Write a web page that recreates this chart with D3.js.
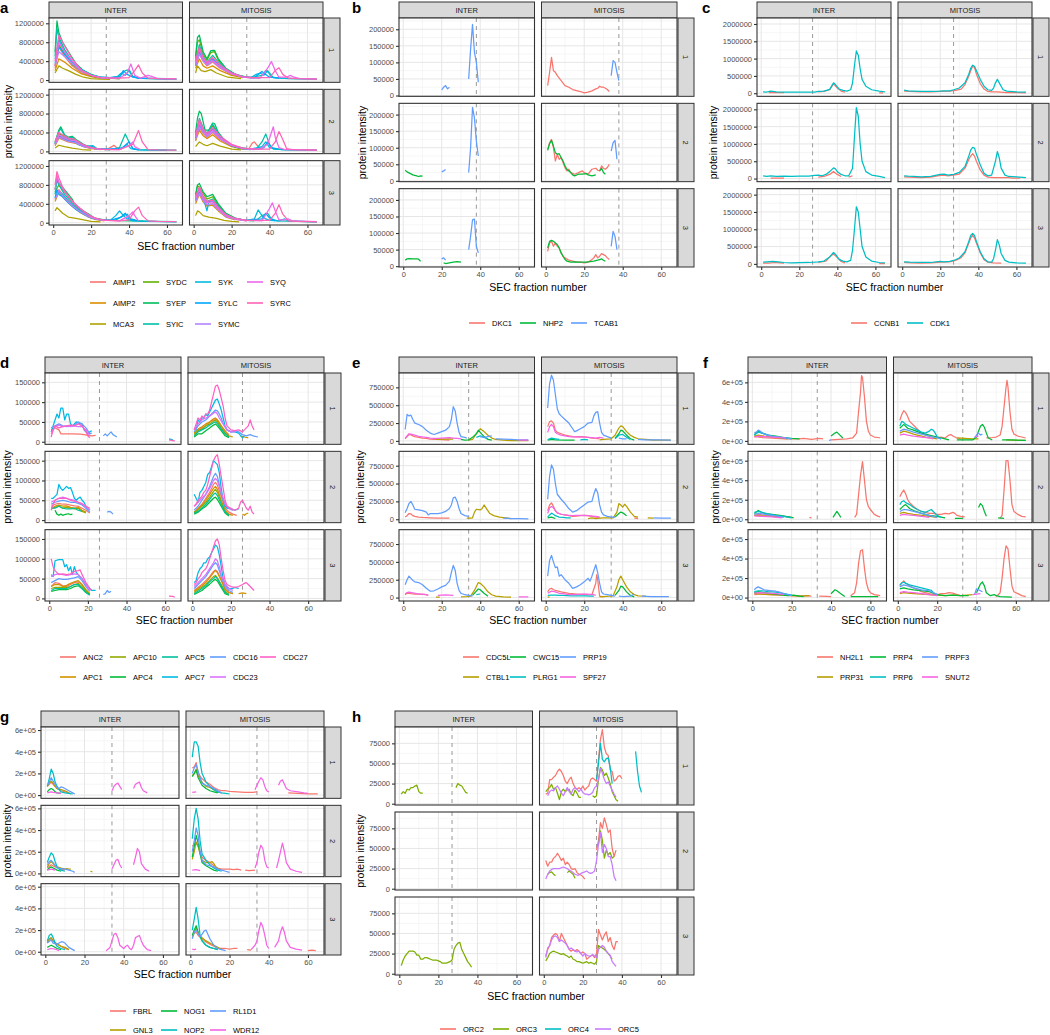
<!DOCTYPE html>
<html><head><meta charset="utf-8">
<script src="https://cdn.jsdelivr.net/npm/d3@7"></script>
<style>body{margin:0;background:#fff} svg{display:block} text{font-family:"Liberation Sans",Arial,Helvetica,sans-serif}</style>
</head><body><svg id="chart" width="1050" height="1035"></svg>
<script>
// ---------------- shared ----------------
const UNIT = 1000; // series values below are in thousands
const CONDITIONS = ["INTER", "MITOSIS"];
const REPLICATES = ["1", "2", "3"];
const X_DOMAIN = [-2.2, 68.2];
const X_TICKS = [0, 20, 40, 60];
const X_MINOR = [10, 30, 50];
const X_TITLE = "SEC fraction number";
const Y_TITLE = "protein intensity";

// ---------------- panel a ----------------
const aProteins = ["AIMP1","AIMP2","MCA3","SYDC","SYEP","SYIC","SYK","SYLC","SYMC","SYQ","SYRC"];
const aColors = ["#F8766D","#DB8E00","#AEA200","#64B200","#00BD5C","#00C1A7","#00BADE","#00A6FF","#B385FF","#EF67EB","#FF63B6"];
const aYTicks = [0, 400000, 800000, 1200000];
const aYDomain = [-48000, 1312000];
const aDash = 28;
const aSeries = [
 ["AIMP1","INTER",1,"1:250 3:700 6:500 10:300 15:150 20:80 25:40 35:30"],
 ["AIMP2","INTER",1,"1:200 3:450 6:380 10:250 15:130 20:70 25:40"],
 ["MCA3","INTER",1,"1:150 3:300 5:250 8:200 12:120 16:60 20:30 25:20 30:15"],
 ["SYDC","INTER",1,"1:300 3:750 6:550 10:330 15:180 20:90 25:50 35:30"],
 ["SYEP","INTER",1,"1:600 2:1250 3:1000 5:800 8:600 12:350 16:200 20:120 25:60 30:40 35:30"],
 ["SYIC","INTER",1,"1:500 2:1100 3:900 6:650 10:400 14:250 20:100 25:50 30:40 35:80 38:200 40:220 42:80 45:40 50:30 60:20 65:20"],
 ["SYK","INTER",1,"1:450 3:850 6:600 10:380 15:220 20:110 25:60 30:50 34:80 36:150 38:100 40:200 42:60 45:40 55:30 65:20"],
 ["SYLC","INTER",1,"1:350 3:700 6:550 10:350 15:200 20:100 25:60 30:50 35:60 37:200 39:120 41:80 45:40 60:30"],
 ["SYMC","INTER",1,"1:300 3:600 6:500 10:350 15:180 20:100 25:50 30:40"],
 ["SYQ","INTER",1,"1:300 3:800 6:600 10:400 15:200 20:100 25:50 35:40 39:150 41:340 43:100 46:40 50:100 52:80 55:30 65:25"],
 ["SYRC","INTER",1,"1:400 3:950 5:800 10:450 15:200 20:100 25:50 30:40 35:40 40:50 43:200 45:320 47:150 50:40 55:30 65:25"],
 ["AIMP1","MITOSIS",1,"1:300 3:550 5:400 7:300 10:380 14:250 20:120 26:60 32:40"],
 ["AIMP2","MITOSIS",1,"1:250 3:450 5:300 7:250 10:300 14:200 20:100 26:50"],
 ["MCA3","MITOSIS",1,"1:150 2:300 4:200 6:180 9:220 12:150 18:60 25:30"],
 ["SYDC","MITOSIS",1,"1:450 2:800 3:850 5:550 7:420 9:580 11:600 13:420 17:220 22:110 28:50"],
 ["SYEP","MITOSIS",1,"1:500 2:900 3:950 5:600 7:450 9:620 11:630 13:450 17:250 22:120 28:60 35:40"],
 ["SYIC","MITOSIS",1,"1:400 3:750 5:500 7:380 10:520 13:380 18:200 24:90 30:50 36:100 38:200 40:150 42:50 50:30 65:20"],
 ["SYK","MITOSIS",1,"1:350 3:650 5:450 7:350 10:450 14:300 20:150 26:70 30:50 33:120 35:150 37:100 39:200 41:60 46:40 55:30 65:20"],
 ["SYLC","MITOSIS",1,"1:300 3:600 5:420 7:330 10:430 14:280 20:140 26:60 32:50 36:180 38:120 40:60 45:40"],
 ["SYMC","MITOSIS",1,"1:300 3:550 5:400 7:320 10:400 14:260 20:130 26:60 32:40"],
 ["SYQ","MITOSIS",1,"1:350 3:650 5:450 7:350 10:420 14:280 20:140 26:60 35:40 39:250 41:390 43:200 45:60 49:60 51:100 53:60 56:30 65:25"],
 ["SYRC","MITOSIS",1,"1:400 3:700 5:480 7:370 10:480 14:320 20:150 26:70 32:50 40:50 43:200 45:260 47:120 50:40 55:30 65:20"],
 ["AIMP1","INTER",2,"1:150 3:300 5:270 8:220 11:200 15:120 20:70 25:50 28:40 31:100 32:130 34:60 36:40"],
 ["AIMP2","INTER",2,"1:120 3:280 5:250 8:200 12:170 16:100 20:60 25:40"],
 ["MCA3","INTER",2,"1:70 3:130 6:100 10:70 15:40 20:25"],
 ["SYDC","INTER",2,"1:170 3:380 5:330 8:260 11:250 14:170 18:100 22:60 28:40"],
 ["SYEP","INTER",2,"1:200 3:450 4:520 6:350 8:300 10:320 12:250 16:150 20:80 25:50 30:40"],
 ["SYIC","INTER",2,"1:180 3:420 4:480 6:330 8:280 10:300 13:200 17:120 21:100 23:50 30:40 35:80 38:370 40:200 42:60 45:40 48:30 55:30 65:25"],
 ["SYK","INTER",2,"1:160 3:350 5:300 8:240 10:240 13:150 17:100 21:120 23:60 30:40 37:80 39:150 41:60 45:30 60:20"],
 ["SYLC","INTER",2,"1:150 3:330 5:290 8:220 12:200 16:120 20:70 25:50 36:60 40:200 42:60 45:30"],
 ["SYMC","INTER",2,"1:140 3:300 5:260 8:210 12:180 16:100 20:70 25:40"],
 ["SYQ","INTER",2,"1:150 3:350 5:300 8:250 11:230 15:150 20:80 25:50 35:40 40:120 42:200 43:100 46:40"],
 ["SYRC","INTER",2,"1:200 3:400 5:350 8:280 11:260 14:180 18:100 22:60 28:40 35:40 42:150 45:440 47:200 50:40 55:30 65:25"],
 ["AIMP1","MITOSIS",2,"1:250 3:500 5:380 7:300 10:400 14:250 20:120 26:60 29:50 31:180 32:200 34:100 36:50"],
 ["AIMP2","MITOSIS",2,"1:220 3:450 5:330 7:270 10:350 14:220 20:100 26:50"],
 ["MCA3","MITOSIS",2,"1:100 3:200 5:150 7:120 10:170 14:110 20:50 25:30"],
 ["SYDC","MITOSIS",2,"1:350 3:650 5:480 7:370 10:550 13:360 17:190 22:90 28:50"],
 ["SYEP","MITOSIS",2,"1:400 2:700 3:850 4:800 6:450 8:450 10:600 11:590 13:400 16:250 20:120 25:60 30:40"],
 ["SYIC","MITOSIS",2,"1:350 3:700 5:500 7:380 10:580 13:380 17:200 22:100 28:60 33:50 36:200 38:370 40:150 42:50 50:30 65:25"],
 ["SYK","MITOSIS",2,"1:300 3:600 5:450 7:350 10:500 14:300 20:130 26:70 30:50 36:100 38:200 40:80 44:60 46:40 55:30 65:25"],
 ["SYLC","MITOSIS",2,"1:280 3:560 5:420 7:330 10:470 14:280 20:120 26:60 34:50 37:80 39:200 41:80 44:40"],
 ["SYMC","MITOSIS",2,"1:250 3:520 5:400 7:310 10:420 14:260 20:120 26:60 32:40"],
 ["SYQ","MITOSIS",2,"1:300 3:600 5:440 7:340 10:450 14:280 20:130 26:60 35:50 39:150 41:400 42:520 43:300 45:80 48:40 52:40 65:25"],
 ["SYRC","MITOSIS",2,"1:330 3:680 5:480 7:370 10:500 14:320 20:150 26:70 32:50 40:50 43:200 45:420 47:250 49:60 52:40 60:30 65:25"],
 ["AIMP1","INTER",3,"1:500 3:700 6:550 10:380 14:250 18:150 22:80 27:50"],
 ["AIMP2","INTER",3,"1:450 3:650 6:500 10:350 14:220 18:130 22:70 27:40"],
 ["MCA3","INTER",3,"1:250 2:320 3:280 5:200 8:120 12:90 16:60 20:30 25:20"],
 ["SYDC","INTER",3,"1:650 3:800 6:650 10:450 14:280 18:170 22:90 27:50"],
 ["SYEP","INTER",3,"1:700 2:950 3:850 6:700 10:500 11:420 14:300 18:200 22:100 27:60 32:50 40:40 45:40 48:30"],
 ["SYIC","INTER",3,"1:600 2:900 3:800 6:600 10:420 14:270 18:160 22:90 27:50 33:60 37:150 39:180 41:80 45:40 55:30 65:25"],
 ["SYK","INTER",3,"1:550 3:650 5:600 8:450 12:300 16:200 20:110 25:60 30:50 33:150 35:250 37:150 39:80 42:40 50:30 65:20"],
 ["SYLC","INTER",3,"1:520 2:700 3:600 5:550 8:420 12:280 16:180 20:100 25:60 30:50 36:120 38:200 40:80 44:40"],
 ["SYMC","INTER",3,"1:480 3:680 6:520 10:360 14:240 18:140 22:80 27:50"],
 ["SYQ","INTER",3,"1:700 2:1000 3:850 6:650 10:450 14:300 18:180 22:100 27:50 35:40 40:150 42:230 43:150 45:40"],
 ["SYRC","INTER",3,"1:800 2:1080 3:950 5:750 8:550 12:380 16:250 20:130 25:60 30:50 35:40 40:60 43:250 45:330 47:150 50:40 55:30 65:25"],
 ["AIMP1","MITOSIS",3,"1:450 3:650 5:480 7:380 10:400 13:280 17:140 22:70 28:40"],
 ["AIMP2","MITOSIS",3,"1:400 3:600 5:440 7:350 10:370 13:250 17:120 22:60"],
 ["MCA3","MITOSIS",3,"1:150 2:250 3:230 5:150 8:120 12:90 16:50 20:30 24:20"],
 ["SYDC","MITOSIS",3,"1:550 2:780 3:750 5:620 7:500 10:550 13:370 17:180 22:90 27:50"],
 ["SYEP","MITOSIS",3,"1:600 2:800 3:830 5:650 7:550 10:600 13:400 17:200 22:100 27:50 32:40"],
 ["SYIC","MITOSIS",3,"1:500 3:720 5:550 7:450 10:500 13:350 17:170 22:90 28:50 33:50 36:150 39:200 41:80 44:40 55:30 65:20"],
 ["SYK","MITOSIS",3,"1:500 3:700 5:540 7:250 8:450 10:480 13:330 17:160 22:80 28:50 32:80 34:270 36:150 38:80 40:50 45:40 48:80 50:40 60:25 65:20"],
 ["SYLC","MITOSIS",3,"1:480 3:650 5:520 7:430 10:460 13:320 17:150 22:80 28:50 36:80 38:200 40:100 43:40"],
 ["SYMC","MITOSIS",3,"1:450 3:620 5:470 7:380 10:400 13:270 17:130 22:70 28:40"],
 ["SYQ","MITOSIS",3,"1:500 3:700 5:520 7:420 10:440 13:300 17:150 22:80 28:50 36:40 40:300 41.5:420 43:250 45:60 48:60 50:80 52:40 65:25"],
 ["SYRC","MITOSIS",3,"1:550 3:760 5:560 7:450 10:480 13:330 17:170 22:90 28:50 40:50 43:200 45:380 47:180 50:40 55:30 65:20"]
];

// ---------------- panel b ----------------
const bProteins = ["DKC1","NHP2","TCAB1"];
const bColors = ["#F8766D","#00BA38","#619CFF"];
const bYTicks = [0, 50000, 100000, 150000, 200000];
const bYDomain = [-2500, 234000];
const bDash = 38;
const bSeries = [
 ["TCAB1","INTER",1,"20:17 21:25 22:30 23:20 24:25 | 34:50 35:140 36:215 37:130 38:100 39:40"],
 ["DKC1","MITOSIS",1,"1:30 2:70 3:115 4:75 5:70 6:60 8:45 10:30 12:25 14:18 16:15 18:12 20:8 22:10 24:14 26:20 27:22 28:28 29:25 30:25 31:22 32:18 33:12"],
 ["TCAB1","MITOSIS",1,"34:60 35:105 36:100 37:70 38:45"],
 ["NHP2","INTER",2,"1:32 2:27 3:24 5:18 7:15 8:13 9:15 10:14"],
 ["TCAB1","INTER",2,"20:27 21:30 22:34 | 34:25 35:100 36:222 37:190 38:120 39:75"],
 ["DKC1","MITOSIS",2,"1:95 2:115 3:125 4:100 5:60 6:80 7:65 8:70 9:55 10:40 11:30 12:35 13:25 15:20 17:25 19:30 20:25 22:20 24:35 26:38 27:32 28:30 29:45 30:38 31:35 32:40 33:50"],
 ["NHP2","MITOSIS",2,"1:92 2:112 3:122 4:105 5:85 6:80 7:82 8:70 9:60 10:45 11:35 12:30 13:25 14:18 15:15 17:20 19:20 21:22 22:18 24:15 26:18 | 28:30 29:38 30:25 31:20"],
 ["TCAB1","MITOSIS",2,"34:90 35:115 36:122 37:65"],
 ["NHP2","INTER",3,"1:18 2:22 3:23 5:22 7:22 8:21 9:15 | 21:10 22:8 24:10 26:12 28:14 29:13 30:12"],
 ["TCAB1","INTER",3,"20:22 21:25 22:18 | 34:50 35:90 36:140 37:142 38:60 39:40"],
 ["DKC1","MITOSIS",3,"1:45 2:70 3:75 4:60 5:70 6:60 7:55 8:40 9:30 10:25 12:18 14:15 16:12 18:12 20:10 22:12 24:20 25:25 26:35 27:25 28:30 29:38 30:35 31:32 32:25 33:20"],
 ["NHP2","MITOSIS",3,"1:55 2:75 3:78 4:75 5:70 6:65 7:55 8:40 9:30 10:20 11:15 13:12 15:13 17:12 19:12 21:12 23:14 25:15 27:18 28:20 29:22 30:18 31:15"],
 ["TCAB1","MITOSIS",3,"34:60 35:105 36:90 37:50"]
];

// ---------------- panel c ----------------
const cProteins = ["CCNB1","CDK1"];
const cColors = ["#F8766D","#00BFC4"];
const cYTicks = [0, 500000, 1000000, 1500000, 2000000];
const cYDomain = [-90000, 2173000];
const cDash = 27;
const cSeries = [
 ["CCNB1","INTER",1,"4:15 6:25 8:20 10:18 12:15 | 30:40 33:50 36:100 38:270 40:150 42:60 44:30 | 62:10 64:8"],
 ["CDK1","INTER",1,"1:40 3:35 5:60 8:40 12:35 16:30 20:30 25:28 28:30 30:55 33:60 36:110 38:300 39:250 41:120 43:80 45:60 47:100 48:300 49:800 50:1220 51:1100 52:700 53:400 55:200 58:100 62:60 65:40"],
 ["CCNB1","MITOSIS",1,"1:60 4:50 10:40 15:40 20:50 25:60 28:80 31:120 33:250 35:500 36:650 37:780 38:740 39:550 41:280 43:120 45:50 47:40 50:40 55:20 60:15 65:10"],
 ["CDK1","MITOSIS",1,"1:90 3:70 6:60 10:50 15:50 20:60 22:70 25:70 27:100 30:150 33:300 35:550 36:720 37:810 38:780 39:650 41:400 43:200 45:100 47:80 48:150 49:300 50:400 51:300 53:100 55:60 60:40 65:30"],
 ["CCNB1","INTER",2,"5:10 8:10 12:10 | 30:40 33:60 36:120 38:200 40:120 42:60 | 46:40 48:80"],
 ["CDK1","INTER",2,"1:80 3:60 5:80 8:60 12:70 16:60 20:70 25:70 28:90 30:100 32:80 34:120 36:200 38:310 39:280 40:200 42:120 44:80 46:80 48:300 49:1200 50:2050 51:1800 52:1000 53:500 55:200 58:100 62:60 65:30"],
 ["CCNB1","MITOSIS",2,"1:50 4:40 10:30 15:40 20:90 22:100 24:80 27:100 30:130 33:300 35:550 36:650 37:720 38:650 39:500 41:250 43:100 45:40 48:30 52:30 56:30 58:10 62:10"],
 ["CDK1","MITOSIS",2,"1:80 3:70 6:60 10:50 15:60 20:120 22:130 24:100 27:120 30:180 33:350 35:650 36:820 37:900 38:880 39:700 41:400 43:150 45:80 47:100 49:500 50:780 51:600 52:300 54:100 56:60 60:50 65:30"],
 ["CCNB1","INTER",3,"1:20 4:25 7:40 10:30 12:20 | 30:40 34:80 36:200 38:290 40:180 42:70 44:30 | 62:10 65:5"],
 ["CDK1","INTER",3,"1:50 3:60 6:70 9:60 12:40 16:30 20:35 25:40 28:50 30:60 33:80 36:200 38:330 39:280 41:130 43:80 45:60 47:100 48:400 49:1000 50:1650 51:1500 52:1000 53:500 55:200 58:80 62:40 65:30"],
 ["CCNB1","MITOSIS",3,"1:40 5:30 10:25 15:30 20:50 25:60 28:100 31:180 33:320 35:600 36:750 37:820 38:750 39:600 41:320 43:120 45:50 48:30 52:20"],
 ["CDK1","MITOSIS",3,"1:60 4:50 10:40 15:40 20:70 22:60 25:70 28:120 30:170 33:350 35:650 36:820 37:880 38:820 39:650 41:350 43:150 45:60 47:50 48:150 49:400 50:700 51:550 52:300 54:100 56:50 60:30 65:20"]
];

// ---------------- panel d ----------------
const dProteins = ["ANC2","APC1","APC10","APC4","APC5","APC7","CDC16","CDC23","CDC27"];
const dColors = ["#F8766D","#D39200","#93AA00","#00BA38","#00C19F","#00B9E3","#619CFF","#DB72FB","#FF61C3"];
const dYTicks = [0, 50000, 100000, 150000];
const dYDomain = [-6500, 173500];
const dDash = 26;
const dSeries = [
 ["ANC2","INTER",1,"1:30 3:35 5:30 6:20 8:20 12:20 16:19 18:18 20:16 22:15 24:16"],
 ["APC7","INTER",1,"1:25 2:40 3:55 4:70 5:60 6:85 7:85 8:55 9:70 10:70 11:45 12:40 13:45 14:50 15:48 16:45 17:45 18:30 19:25 20:20 21:25 22:28 | 62:7 63:6 64:5"],
 ["CDC16","INTER",1,"1:35 3:40 5:45 7:40 9:38 11:40 13:42 15:50 17:45 19:35 21:20 22:22 | 28:15 29:20 30:15 31:20 32:25 33:18 34:15 35:12"],
 ["CDC23","INTER",1,"1:20 3:38 5:42 7:38 9:40 11:38 13:40 15:38 17:38 19:30 21:15"],
 ["CDC27","INTER",1,"1:12 2:30 3:40 5:35 7:38 9:40 11:42 13:40 15:45 17:40 19:25 20:15 21:10 | 62:5 64:3 65:2"],
 ["ANC2","MITOSIS",1,"1:20 3:30 5:35 7:40 9:50 11:55 12:58 13:55 14:48 15:40 17:25 19:18"],
 ["APC1","MITOSIS",1,"1:22 3:32 5:38 7:45 9:50 11:58 12:60 13:55 15:40 17:28 19:15 21:12 | 25:15 27:12 29:10"],
 ["APC10","MITOSIS",1,"1:18 3:28 5:32 7:40 9:45 11:52 12:55 13:50 15:35 17:22 19:12"],
 ["APC4","MITOSIS",1,"1:12 3:20 5:20 7:28 9:35 11:42 12:45 13:40 15:28 17:15 19:10"],
 ["APC5","MITOSIS",1,"1:15 3:25 5:30 7:35 9:42 11:48 12:50 13:46 15:32 17:20 19:12"],
 ["APC7","MITOSIS",1,"1:35 2:30 3:55 4:50 5:60 6:60 7:70 8:65 9:75 10:85 11:95 12:105 13:108 14:95 15:80 16:60 17:40 18:30 20:25 22:25 24:22 26:10 27:15"],
 ["CDC16","MITOSIS",1,"1:25 3:40 5:50 7:55 9:65 11:75 12:80 13:78 14:70 15:60 16:45 18:30 20:25 22:28 24:25 26:18 28:15 30:18 32:14 34:12"],
 ["CDC23","MITOSIS",1,"1:30 3:45 5:55 7:60 9:65 11:72 12:75 13:70 14:60 16:45 18:30 20:25 22:25"],
 ["CDC27","MITOSIS",1,"1:30 2:45 3:60 4:55 5:65 6:60 7:70 8:70 9:80 10:100 11:120 12:140 13:143 14:130 15:110 16:90 17:60 18:40 20:30 22:28 24:30 26:25 27:30 28:35 29:40 30:55 31:40 32:30"],
 ["ANC2","INTER",2,"1:35 3:40 5:42 7:40 9:40 11:38 13:36 15:35 17:30 19:25 21:18"],
 ["APC1","INTER",2,"1:30 3:35 5:38 7:35 9:36 11:32 13:30 15:32 17:25 19:20"],
 ["APC10","INTER",2,"1:28 3:32 5:35 7:30 9:32 11:30 13:28 15:30 17:22 19:18"],
 ["APC4","INTER",2,"3:25 4:15 5:12 6:15 7:12 8:14 9:15 10:16 11:14 12:15"],
 ["APC5","INTER",2,"1:30 3:30 5:35 7:30 9:28 11:28 13:30 15:25 17:22"],
 ["APC7","INTER",2,"1:55 2:55 3:60 4:65 5:90 6:80 7:75 8:80 9:85 10:80 11:82 12:70 13:55 14:50 15:55 16:58 17:50 18:45 19:35 20:30 21:25"],
 ["CDC16","INTER",2,"1:40 3:45 5:48 7:50 9:48 11:45 13:45 15:42 17:38 19:30 21:20 | 30:20 31:22 32:20 33:15"],
 ["CDC23","INTER",2,"1:45 3:50 5:55 7:58 9:55 11:52 13:50 15:45 17:42 19:35 21:25"],
 ["CDC27","INTER",2,"1:25 2:40 3:50 5:55 7:55 9:55 11:50 13:48 15:45 17:40 19:35 21:30"],
 ["ANC2","MITOSIS",2,"1:20 3:30 5:40 7:55 9:70 11:90 12:95 13:88 15:60 17:30 19:20 21:15 23:12"],
 ["APC1","MITOSIS",2,"1:18 3:28 5:38 7:50 9:65 11:80 12:85 13:78 15:50 17:25 19:15 21:12 | 26:15 27:12 28:16 29:18"],
 ["APC10","MITOSIS",2,"1:20 3:25 5:35 7:45 9:58 11:72 12:78 13:70 15:45 17:22 19:12"],
 ["APC4","MITOSIS",2,"1:15 3:20 5:28 7:35 9:45 11:55 12:58 13:52 15:35 17:18 19:10"],
 ["APC5","MITOSIS",2,"1:18 3:22 5:30 7:40 9:52 11:65 12:68 13:62 15:40 17:20 19:12"],
 ["APC7","MITOSIS",2,"1:65 2:55 3:45 4:70 5:75 6:85 7:95 8:115 9:120 10:135 11:150 12:145 13:140 14:120 15:80 16:50 17:35 18:30 20:28 22:25 24:28"],
 ["CDC16","MITOSIS",2,"1:25 3:35 5:50 7:65 9:85 11:110 12:118 13:110 14:90 15:65 17:40 19:30 21:25"],
 ["CDC23","MITOSIS",2,"1:35 3:45 5:55 7:65 9:80 11:100 12:105 13:100 15:70 17:40 19:30 21:25"],
 ["CDC27","MITOSIS",2,"1:35 2:40 3:50 4:55 5:60 6:70 7:75 8:90 9:110 10:130 11:150 12:160 13:165 14:140 15:110 16:80 17:50 18:35 20:30 22:25 24:30 25:45 26:50 27:40 28:30 29:25 30:35 31:20 32:15"],
 ["ANC2","INTER",3,"1:30 3:40 5:38 7:32 9:30 11:35 13:40 15:42 17:35 19:20 21:10"],
 ["APC1","INTER",3,"1:30 3:35 5:35 7:30 9:33 11:38 13:42 15:45 17:35 19:22 21:12"],
 ["APC10","INTER",3,"1:25 3:28 5:28 7:28 9:28 11:30 13:35 15:38 17:30 19:20 21:10"],
 ["APC4","INTER",3,"1:18 3:20 5:22 7:22 9:22 11:25 13:30 15:32 17:25 19:15 21:10"],
 ["APC5","INTER",3,"1:20 3:25 5:25 7:25 9:25 11:30 13:35 15:35 17:25 19:15 21:8"],
 ["APC7","INTER",3,"1:60 2:55 3:95 5:98 7:98 8:80 9:85 10:70 11:80 12:60 13:80 14:65 15:60 16:55 17:50 19:35 21:25 22:20 24:20"],
 ["CDC16","INTER",3,"1:40 3:45 5:50 7:48 9:48 11:50 13:52 15:55 17:45 19:30 21:18 | 28:10 29:12 30:20 31:15 32:18"],
 ["CDC23","INTER",3,"1:55 3:60 5:62 7:60 9:58 11:60 13:62 15:60 17:50 19:35 21:20"],
 ["CDC27","INTER",3,"1:100 2:80 3:70 5:60 7:62 9:60 11:62 13:68 15:70 16:72 17:60 19:40 21:25 22:20 | 62:6 64:5 65:3"],
 ["ANC2","MITOSIS",3,"1:20 3:28 5:35 7:45 9:55 11:68 12:72 13:68 15:48 17:25 19:15 21:12"],
 ["APC1","MITOSIS",3,"1:18 3:25 5:32 7:40 9:52 11:65 12:70 13:65 15:45 17:22 19:15 21:12 | 24:12 26:14 28:12"],
 ["APC10","MITOSIS",3,"1:15 3:22 5:28 7:35 9:45 11:55 12:58 13:52 15:35 17:18 19:10"],
 ["APC4","MITOSIS",3,"1:10 3:15 5:20 7:28 9:36 11:45 12:48 13:44 15:28 17:12 19:8"],
 ["APC5","MITOSIS",3,"1:12 3:18 5:25 7:32 9:42 11:50 12:55 13:50 15:32 17:15 19:10"],
 ["APC7","MITOSIS",3,"1:40 2:45 3:65 4:75 5:80 6:90 7:90 8:100 9:105 10:115 11:125 12:135 13:130 14:110 15:80 16:50 17:35 19:25 21:25 22:28 24:25"],
 ["CDC16","MITOSIS",3,"1:25 3:35 5:45 7:55 9:70 11:85 12:90 13:85 14:70 15:55 17:30 19:20 21:15"],
 ["CDC23","MITOSIS",3,"1:30 3:40 5:50 7:60 9:75 11:90 12:100 13:95 14:80 15:60 17:35 19:25 21:20"],
 ["CDC27","MITOSIS",3,"1:35 2:40 3:50 4:55 5:65 6:70 7:75 8:85 9:100 10:115 11:130 12:145 13:150 14:135 15:100 16:70 17:45 18:35 20:30 22:28 24:30 26:35 27:38 28:40 29:35 30:30 31:25 32:20"]
];

// ---------------- panel e ----------------
const eProteins = ["CDC5L","CTBL1","CWC15","PLRG1","PRP19","SPF27"];
const eColors = ["#F8766D","#B79F00","#00BA38","#00BFC4","#619CFF","#F564E3"];
const eYTicks = [0, 250000, 500000, 750000];
const eYDomain = [-48000, 951000];
const eDash = 34;
const eSeries = [
 ["CDC5L","INTER",1,"1:30 2:60 3:90 4:85 5:70 6:60 8:50 10:40 12:35 14:25 16:20 18:20 20:18 22:15 24:10"],
 ["CTBL1","INTER",1,"17:20 20:25 24:30 26:25 | 34:10 36:20 38:100 40:170 42:130 44:80 46:40 48:20 52:10 56:5 60:5 65:5"],
 ["CWC15","INTER",1,"30:20 32:10 34:15 36:50 38:100 39:150 40:120 42:60 44:20 46:10"],
 ["PLRG1","INTER",1,"38:50 40:70 42:50 44:30"],
 ["PRP19","INTER",1,"1:160 2:370 3:350 4:360 5:300 6:250 8:230 10:200 12:150 14:110 16:90 18:110 20:130 22:150 24:200 25:300 26:480 27:420 28:250 29:120 30:60 32:50 33:40 | 40:60 42:50 44:60 46:70 | 48:30 52:25 56:20 60:15 65:15"],
 ["SPF27","INTER",1,"1:40 3:100 4:95 6:80 8:65 10:55 12:50 14:40 16:35 18:35 20:40 22:42 24:45 26:40 28:35 30:30 | 60:10 65:10"],
 ["CDC5L","MITOSIS",1,"1:200 2:270 3:280 4:250 5:150 6:120 8:100 10:80 12:70 14:60 16:55 18:60 20:55 22:50 24:40 26:35 28:30"],
 ["CTBL1","MITOSIS",1,"28:15 30:20 32:25 34:30 36:80 38:180 39:210 40:200 42:130 44:80 46:50 48:30 52:20 56:10 60:10 65:10"],
 ["CWC15","MITOSIS",1,"1:10 3:20 5:15 10:10 15:10 | 36:40 38:100 39:150 40:140 42:80 44:30 46:10"],
 ["PLRG1","MITOSIS",1,"1:20 3:40 5:30 7:20 | 18:15 20:20 22:15 | 36:30 38:80 40:90 42:50 44:20"],
 ["PRP19","MITOSIS",1,"1:460 2:800 3:920 4:850 5:650 6:450 7:380 8:350 10:300 12:250 14:170 15:130 16:140 18:170 20:200 22:250 24:260 25:350 26:400 27:410 28:250 29:120 30:80 32:60 34:40 | 38:40 40:30 42:30 | 48:20 52:15 58:15 65:10"],
 ["SPF27","MITOSIS",1,"1:120 2:200 3:230 4:200 5:120 6:100 8:80 10:70 12:60 14:55 16:55 18:55 20:52 22:50 24:45 26:40 28:50 30:40"],
 ["CDC5L","INTER",2,"1:30 2:50 3:80 4:75 5:50 6:40 8:30 10:25 14:20 18:15 22:15 24:15"],
 ["CTBL1","INTER",2,"33:15 35:15 36:20 37:100 38:140 40:130 41:150 42:200 43:160 45:80 47:50 50:30 53:20 56:10"],
 ["PRP19","INTER",2,"1:90 2:150 3:220 4:250 5:200 6:140 8:130 10:120 12:100 13:60 14:80 16:80 18:80 20:90 22:110 24:150 25:200 26:300 27:310 28:250 29:150 30:80 32:50 34:40 | 52:15 56:10 60:8 65:5"],
 ["CDC5L","MITOSIS",2,"1:120 2:200 3:230 4:180 5:120 6:90 8:70 10:60 12:50 14:40 16:45 18:50 20:55 22:50 24:40 26:30 28:25 | 46:20 48:10"],
 ["CTBL1","MITOSIS",2,"22:10 24:20 26:10 28:15 30:20 33:20 35:20 37:100 38:220 39:200 40:170 41:210 42:180 44:100 46:40 48:30 | 53:20 56:15"],
 ["CWC15","MITOSIS",2,"1:20 3:30 5:10 | 36:30 38:80 39:100 40:90 42:50"],
 ["PLRG1","MITOSIS",2,"1:30 2:60 3:85 4:70 5:50 7:30 9:25 11:20 13:20"],
 ["PRP19","MITOSIS",2,"1:280 2:600 3:760 4:700 5:500 6:350 8:280 10:220 12:150 14:100 16:120 18:160 20:200 22:240 24:250 25:350 26:430 27:370 28:200 29:100 30:60 32:40 34:30 36:30 | 56:20 60:15 65:15"],
 ["SPF27","MITOSIS",2,"1:80 2:160 3:180 4:160 5:120 6:90 8:70 10:60 12:55 14:50 16:55 18:55 20:55 22:50 24:45 26:40 28:30"],
 ["CDC5L","INTER",3,"1:40 2:60 3:60 4:55 6:50 8:50 10:45 12:40 13:30"],
 ["CTBL1","INTER",3,"17:5 19:5 | 30:10 33:15 35:20 37:100 39:210 40:200 42:150 44:80 46:40 48:20 52:10 56:5"],
 ["CWC15","INTER",3,"36:30 38:90 39:120 40:110 42:60 44:20"],
 ["PLRG1","INTER",3,"38:40 40:50"],
 ["PRP19","INTER",3,"1:180 2:250 3:300 4:270 5:240 6:220 8:210 10:180 12:130 14:90 16:95 18:120 20:150 22:170 24:230 25:350 26:450 27:380 28:200 29:100 30:60 32:40 34:30 36:20"],
 ["SPF27","INTER",3,"1:50 2:70 3:75 5:65 7:55 9:50 11:45 13:35 | 18:30 20:35 22:38 24:35 26:30 | 60:10 65:10"],
 ["CDC5L","MITOSIS",3,"1:80 2:120 3:130 4:110 5:100 6:95 8:80 10:70 12:60 14:55 16:50 18:45 20:45 22:40 24:40 26:200 26.5:320 27:250 28:20 30:10"],
 ["CTBL1","MITOSIS",3,"1:10 2:5 | 28:10 30:15 33:20 35:25 37:150 38:250 39:300 40:250 42:150 44:80 46:40 48:25 52:20"],
 ["CWC15","MITOSIS",3,"36:30 38:100 39:160 40:150 42:80 44:30 46:10"],
 ["PLRG1","MITOSIS",3,"1:30 3:35 5:35 7:30 9:30 11:28 13:25 15:25 17:25 19:25 21:25 23:20 25:20"],
 ["PRP19","MITOSIS",3,"1:300 2:520 3:590 4:500 5:420 6:430 7:300 8:320 10:250 12:200 14:130 16:150 18:180 20:220 22:270 23:230 24:300 25:380 26:460 27:350 28:200 29:80 30:50 32:40 34:30 36:20 | 38:20 40:15 44:20 46:50 | 50:20 55:15 60:15 64:15"],
 ["SPF27","MITOSIS",3,"1:60 3:90 5:80 7:60 9:55 11:45 13:40 15:40 17:45 19:50 21:50 23:45 25:40 26:30"]
];

// ---------------- panel f ----------------
const fProteins = ["NH2L1","PRP31","PRP4","PRP6","PRPF3","SNUT2"];
const fColors = ["#F8766D","#B79F00","#00BA38","#00BFC4","#619CFF","#F564E3"];
const fYTicks = [0, 200000, 400000, 600000];
const fYDomain = [-35000, 696000];
const fDash = 33;
const fSeries = [
 ["NH2L1","INTER",1,"1:40 2:45 3:40 5:35 8:30 12:25 16:20 20:20 24:20 26:25 28:22 30:15 32:20 34:25 36:20 | 40:10 44:15 48:20 51:30 53:80 54:300 55:500 55.5:670 56:650 57:450 58:200 59:100 60:60 62:40 64:35 65:30"],
 ["PRP31","INTER",1,"1:50 3:60 6:50 10:40 14:30 18:20"],
 ["PRP4","INTER",1,"1:60 2:80 3:100 5:80 8:60 12:50 16:35 20:25 24:20 | 40:50 42:80 43:90 44:70 46:30"],
 ["PRP6","INTER",1,"1:60 3:90 5:80 8:60 12:40 16:30 20:20"],
 ["PRPF3","INTER",1,"1:80 2:90 3:110 4:100 6:70 10:50 14:40 17:30 20:20 | 39:5 40:10"],
 ["SNUT2","INTER",1,"1:40 3:50 6:45 10:40 14:35 17:25"],
 ["NH2L1","MITOSIS",1,"1:210 2:270 3:310 4:290 5:250 6:200 8:160 10:120 12:80 14:60 16:50 18:40 20:35 22:40 24:30 26:60 27:65 28:50 30:30 32:20 | 45:30 48:35 50:40 52:60 53:150 54:350 55:550 55.5:620 56:550 57:300 58:120 59:70 61:50 63:40 65:30"],
 ["PRP31","MITOSIS",1,"1:80 3:100 5:90 8:70 12:50 16:30 20:20 | 30:30 34:25 38:20 41:20 | 55:10 60:5 65:5"],
 ["PRP4","MITOSIS",1,"1:130 3:170 5:130 8:110 12:80 16:60 20:40 24:20 26:10 | 30:10 34:10 38:10 40:40 41:100 42:150 43:170 44:140 45:80 46:30 48:10 | 53:10 58:10 65:5"],
 ["PRP6","MITOSIS",1,"1:150 2:200 3:190 4:170 6:150 8:130 10:110 12:90 14:80 16:100 17:120 18:110 19:80 20:40 22:20"],
 ["PRPF3","MITOSIS",1,"1:100 3:120 5:110 8:90 12:70 16:50 20:30 22:20 | 39:30 40:60 41:80 42:60 43:70"],
 ["SNUT2","MITOSIS",1,"1:60 3:70 5:60 8:50 12:40 16:30 18:20 | 39:40 41:50"],
 ["NH2L1","INTER",2,"1:40 3:50 5:45 8:40 12:35 16:30 20:20 | 29:20 30:15 | 52:20 53:50 54:250 55:450 56:590 57:400 58:200 59:130 60:100 62:50 64:30 65:25"],
 ["PRP31","INTER",2,"1:40 5:35 10:30 15:20"],
 ["PRP4","INTER",2,"1:60 3:90 4:80 6:60 10:50 14:40 17:30 20:20 21:15 | 41:20 42:50 43:80 44:50 45:20"],
 ["PRP6","INTER",2,"1:70 3:80 5:70 8:55 12:40 16:30 20:15"],
 ["PRPF3","INTER",2,"1:50 3:60 5:55 8:45 12:35 16:20"],
 ["SNUT2","INTER",2,"1:35 5:30 10:25 15:15"],
 ["NH2L1","MITOSIS",2,"1:230 2:270 3:300 4:260 5:200 6:170 8:130 10:100 12:80 14:70 16:60 18:60 20:50 22:50 24:60 26:55 28:70 29:60 30:40 32:30 34:25 | 52:10 53:40 54:300 55:600 56:600 57:400 58:150 59:80 61:50 63:30 65:25"],
 ["PRP31","MITOSIS",2,"1:60 3:70 5:60 8:50 12:40 16:30 20:20"],
 ["PRP4","MITOSIS",2,"1:100 3:140 4:150 6:110 8:90 12:60 16:40 20:30 24:15 | 29:10 33:10 | 41:120 42:160 43:140 44:80 45:30 | 51:15 54:10"],
 ["PRP6","MITOSIS",2,"1:150 2:180 3:190 4:170 6:150 8:120 10:100 12:80 14:70 16:90 17:100 18:80 20:40 22:20"],
 ["PRPF3","MITOSIS",2,"1:80 3:100 5:95 8:80 12:60 16:40 20:20"],
 ["SNUT2","MITOSIS",2,"1:40 3:50 5:45 8:40 12:30 16:20"],
 ["NH2L1","INTER",3,"1:30 3:35 5:35 8:30 12:28 16:25 20:20 24:15 27:20 30:15 | 34:15 38:12 40:10 | 50:20 52:50 53:150 54:350 55:480 56:490 57:300 58:150 59:80 60:50 62:30 65:20"],
 ["PRP31","INTER",3,"1:40 5:35 10:30 15:25 20:20 25:15 29:20"],
 ["PRP4","INTER",3,"1:50 3:60 6:50 10:40 14:30 18:20 21:25 24:15 26:10 | 40:40 42:80 43:70 45:40 47:10 | 50:10 53:10 60:10 64:10"],
 ["PRP6","INTER",3,"1:60 3:70 5:70 8:60 12:55 16:40 20:25"],
 ["PRPF3","INTER",3,"1:80 2:100 3:110 4:100 6:80 8:75 10:70 12:65 14:55 16:40 18:30 20:20"],
 ["SNUT2","INTER",3,"1:45 4:50 8:45 12:40 16:30"],
 ["NH2L1","MITOSIS",3,"1:120 2:150 3:170 4:150 6:120 8:100 10:80 12:60 14:50 16:40 18:30 20:30 22:40 24:40 26:50 28:45 30:30 32:20 | 50:10 52:50 53:200 54:400 55:530 56:500 57:300 58:120 59:60 61:40 63:20 65:10"],
 ["PRP31","MITOSIS",3,"1:40 3:50 5:45 8:40 12:35 16:30 20:25 24:20 28:25 32:20 35:25 38:30"],
 ["PRP4","MITOSIS",3,"1:90 3:100 5:90 8:80 12:70 16:60 20:30 24:20 28:25 32:20 36:20 | 40:50 42:140 43:160 44:120 45:50 47:20 49:30 50:20 52:10 58:5"],
 ["PRP6","MITOSIS",3,"1:130 2:150 3:160 4:145 6:130 8:120 10:110 12:100 14:90 16:80 17:75 18:50 20:30"],
 ["PRPF3","MITOSIS",3,"1:110 3:130 5:120 8:100 12:80 16:70 18:50 20:30 | 39:30 40:90 41:80 42:70 43:60"],
 ["SNUT2","MITOSIS",3,"1:50 3:60 5:55 8:50 12:40 16:30 20:20 | 38:30 40:35 42:40"]
];

// ---------------- panel g ----------------
const gProteins = ["FBRL","GNL3","NOG1","NOP2","RL1D1","WDR12"];
const gColors = ["#F8766D","#B79F00","#00BA38","#00BFC4","#619CFF","#F564E3"];
const gYTicks = [0, 200000, 400000, 600000];
const gYDomain = [-30000, 628000];
const gDash = 34;
const gSeries = [
 ["FBRL","INTER",1,"1:80 2:100 3:120 4:100 6:60 8:40 10:30 12:20"],
 ["GNL3","INTER",1,"1:80 2:110 3:130 4:110 5:80 6:60 8:50 10:40 12:20 13:10"],
 ["NOG1","INTER",1,"1:30 2:50 3:60 4:50 5:30 6:20 8:15"],
 ["NOP2","INTER",1,"1:80 2:150 3:240 4:200 5:120 6:80 7:50 8:30 10:20 12:15 14:10"],
 ["RL1D1","INTER",1,"1:90 2:120 3:160 4:130 5:100 6:70 7:60 8:75 9:70 10:60 12:40 14:20 15:10"],
 ["WDR12","INTER",1,"1:20 2:25 3:30 4:25 6:20 8:15 | 34:40 35:80 36:100 37:110 38:80 39:50 | 45:60 46:100 47:110 48:120 49:70 50:40 52:20"],
 ["FBRL","MITOSIS",1,"1:250 2:260 3:300 4:200 6:150 8:120 10:100 12:70 14:50 16:40 18:40 20:35 24:30 28:25 32:25 34:30 | 50:20 55:15 60:10 65:10"],
 ["GNL3","MITOSIS",1,"1:180 2:200 3:240 4:180 6:120 8:80 10:70 12:50 14:30 16:20"],
 ["NOG1","MITOSIS",1,"1:170 2:200 3:230 4:160 6:90 8:60 10:40 12:30 14:20"],
 ["NOP2","MITOSIS",1,"1:350 2:490 3:490 4:450 5:300 6:200 8:120 10:80 12:50 14:30 16:20 18:15 20:10"],
 ["RL1D1","MITOSIS",1,"1:200 2:250 3:280 4:220 5:160 6:110 8:90 10:80 12:60 14:40 16:20"],
 ["WDR12","MITOSIS",1,"1:25 3:30 | 33:50 34:90 35:130 36:160 37:140 38:80 39:40 40:30 | 45:90 46:130 47:140 48:100 49:60 51:40 55:30 58:20 60:15"],
 ["FBRL","INTER",2,"1:50 3:80 5:60 8:40 10:30"],
 ["GNL3","INTER",2,"1:60 2:90 3:110 4:90 6:60 8:50 10:40 11:45 12:40 13:40 | 23:20 24:15"],
 ["NOG1","INTER",2,"1:30 2:50 3:60 4:50 6:30 8:20"],
 ["NOP2","INTER",2,"1:100 2:150 3:190 4:170 5:110 6:60 7:40 8:30 10:20"],
 ["RL1D1","INTER",2,"1:80 2:110 3:120 4:100 6:50 8:45 10:40 12:30 14:20 15:10"],
 ["WDR12","INTER",2,"1:30 3:40 5:30 | 34:40 35:80 36:120 37:130 38:80 39:50 | 45:80 46:150 47:230 48:200 49:90 51:40 53:20"],
 ["FBRL","MITOSIS",2,"1:250 2:270 3:280 4:250 6:150 8:120 10:100 12:70 14:50 16:40 18:40 20:40 22:35 24:40 26:30 | 28:30 30:25 33:30"],
 ["GNL3","MITOSIS",2,"1:130 2:200 3:290 4:250 5:180 6:120 8:100 10:100 11:110 12:90 13:60 15:30"],
 ["NOG1","MITOSIS",2,"1:150 2:250 3:350 4:280 5:180 6:100 8:70 10:50 12:30 14:20"],
 ["NOP2","MITOSIS",2,"1:320 2:500 3:600 4:500 5:300 6:180 8:120 10:80 12:50 14:30 16:20"],
 ["RL1D1","MITOSIS",2,"1:200 2:300 3:420 4:350 5:200 6:120 8:80 10:70 12:60 14:40 16:30 18:20 20:10"],
 ["WDR12","MITOSIS",2,"1:30 3:35 5:25 | 33:50 34:100 35:200 36:260 37:230 38:120 39:60 40:50 | 44:50 45:120 46:200 47:280 48:200 49:100 51:40 54:20 57:10"],
 ["FBRL","INTER",3,"1:90 2:110 3:120 4:100 6:70 8:50 10:30 12:20"],
 ["GNL3","INTER",3,"1:80 2:120 3:130 4:100 6:70 8:50 10:40 12:20"],
 ["NOG1","INTER",3,"1:40 2:50 3:60 4:50 6:30 8:20"],
 ["NOP2","INTER",3,"1:100 2:150 3:165 4:130 5:80 6:50 8:30 10:20"],
 ["RL1D1","INTER",3,"1:80 3:110 4:80 6:70 7:80 8:90 9:90 10:80 12:40 14:20 15:10"],
 ["WDR12","INTER",3,"1:20 3:30 5:25 7:10 | 31:10 33:40 34:100 35:160 36:170 37:130 38:60 40:30 41:50 42:60 43:30 44:20 45:60 46:130 47:140 48:150 49:100 50:60 52:20 54:10"],
 ["FBRL","MITOSIS",3,"1:150 2:170 3:180 4:150 6:120 8:90 10:70 12:50 14:30 16:30 18:30 20:25 22:30 24:30 | 29:20 31:15 | 60:10 62:15 64:10"],
 ["GNL3","MITOSIS",3,"1:130 2:180 3:220 4:170 6:130 8:100 10:80 12:60 14:40 16:20"],
 ["NOG1","MITOSIS",3,"1:150 2:200 3:240 4:180 6:100 8:60 10:40 12:30 14:20"],
 ["NOP2","MITOSIS",3,"1:200 2:300 3:410 4:300 5:150 6:100 8:60 10:40 12:30 14:20"],
 ["RL1D1","MITOSIS",3,"1:120 2:180 3:200 4:170 5:140 6:160 7:190 8:200 9:160 10:120 12:60 14:30 16:20 18:10"],
 ["WDR12","MITOSIS",3,"1:25 2:20 3:25 | 31:20 33:60 34:100 35:200 36:270 37:230 38:150 39:60 40:30 | 43:40 45:100 46:180 47:230 48:180 49:100 51:40 54:25 57:15"]
];

// ---------------- panel h ----------------
const hProteins = ["ORC2","ORC3","ORC4","ORC5"];
const hColors = ["#F8766D","#7CAE00","#00BFC4","#C77CFF"];
const hYTicks = [0, 25000, 50000, 75000];
const hYDomain = [-1600, 95300];
const hDash = 27;
const hSeries = [
 ["ORC3","INTER",1,"1:12 2:15 3:13 4:18 5:17 6:20 7:20 8:22 9:23 10:15 11:13 12:13 | 29:20 30:25 31:23 32:22 33:18 34:14 35:13"],
 ["ORC2","MITOSIS",1,"1:12 2:13 3:30 4:30 5:33 6:35 7:40 8:43 9:40 10:35 11:28 12:25 13:30 14:33 15:25 16:20 17:18 18:20 19:18 20:22 21:17 22:20 23:22 24:30 25:32 26:30 27:28 28:55 29:80 30:92 31:70 32:62 33:60 34:42 35:40 36:28 37:30 38:34 39:35 40:31"],
 ["ORC3","MITOSIS",1,"1:15 2:18 3:20 4:24 5:18 6:20 7:13 8:5 9:15 10:18 11:15 12:17 13:18 14:12 15:10 16:17 17:13 18:8 19:8 | 25:10 26:8 27:10 28:30 29:45 30:42 31:35 32:38 33:32 34:25 35:15 36:10 37:5 38:3"],
 ["ORC4","MITOSIS",1,"27:30 28:50 29:75 30:55 31:52 32:56 33:57 34:45 35:25 | 47:65 48:40 49:22 50:14"],
 ["ORC5","MITOSIS",1,"2:10 3:15 4:17 5:16 6:20 7:22 8:18 9:13 10:10 11:15 12:20 13:15 14:12 15:18 16:20 17:18 18:15 19:18 20:14 21:12 22:12 23:11 24:12 25:14 26:20 27:22 28:30 29:44 30:38 31:30 32:25 33:27 34:22 35:17 36:12 37:8"],
 ["ORC2","MITOSIS",2,"1:35 2:28 3:33 4:33 5:38 6:40 7:44 8:40 9:35 10:38 11:30 12:33 13:30 14:25 15:24 16:25 17:20 18:18 19:17 20:15 21:12 | 27:48 28:60 29:82 30:75 31:88 32:80 33:70 34:73 35:50 36:40 37:48"],
 ["ORC3","MITOSIS",2,"2:18 3:20 4:21 5:18 6:16 | 12:20 13:22 14:20 15:18 16:13 | 28:55 29:72 30:60 31:38 32:48 33:42 34:45 35:38 36:40"],
 ["ORC5","MITOSIS",2,"1:12 2:18 3:22 4:24 5:25 6:25 7:25 8:25 9:26 10:27 11:26 12:25 13:23 14:22 15:20 16:18 17:17 18:17 19:19 20:20 21:21 22:22 23:20 24:19 25:20 26:22 27:35 28:55 29:70 30:45 31:55 32:50 33:40 34:40 35:30 36:15 37:10"],
 ["ORC3","INTER",3,"1:10 2:17 3:22 4:25 5:28 6:28 7:28 8:27 9:23 10:23 11:18 12:18 13:20 14:20 15:19 16:18 17:17 18:17 19:17 20:16 21:15 22:13 23:13 24:13 25:14 26:15 27:17 28:30 29:35 30:38 31:39 32:30 33:25 34:20 35:15 36:12 37:8"],
 ["ORC2","MITOSIS",3,"1:22 2:30 3:35 4:45 5:48 6:50 7:48 8:40 9:50 10:45 11:40 12:35 13:30 14:28 15:30 16:28 17:30 18:28 19:25 20:27 21:25 22:18 23:20 24:22 25:23 26:20 27:25 28:55 29:48 30:42 31:48 32:52 33:40 34:45 35:35 36:30 37:40 38:40"],
 ["ORC3","MITOSIS",3,"1:16 2:20 3:25 4:27 5:28 6:27 7:26 8:25 9:24 10:25 11:23 12:22 13:20 14:22 15:18 16:17 17:15 18:15 19:14 20:13 21:14 22:15 23:13 24:14 25:13 26:12 27:15 28:35 29:33 30:32 31:30 32:28 33:25 34:22 35:18"],
 ["ORC5","MITOSIS",3,"1:20 2:32 3:35 4:42 5:46 6:47 7:45 8:40 9:42 10:40 11:38 12:35 13:30 14:32 15:30 16:28 17:27 18:28 19:25 20:22 21:25 22:23 23:22 24:22 25:24 26:22 27:20 28:30 29:33 30:35 31:33 32:28 33:25 34:23 35:15 36:12 37:9"]
];

// ---------------- layout (positions, px) ----------------
const LAYOUT = {
  a: {x0:49,  x1:323,  y0:18,  y1:225, letterX:0,   legendY:[282,303,324], labelX:[113,166,218,270], titleY:246, ylabX:8},
  b: {x0:399, x1:677,  y0:18,  y1:267, letterX:352, legendY:[323],         labelX:[492,543,594],     titleY:287, ylabX:362},
  c: {x0:757, x1:1032, y0:18,  y1:267, letterX:702, legendY:[323],         labelX:[874,930],         titleY:287, ylabX:713},
  d: {x0:45,  x1:324,  y0:373, y1:601, letterX:0,   legendY:[657,677],     labelX:[83,133,185,233,283], titleY:620, ylabX:7},
  e: {x0:399, x1:677,  y0:373, y1:601, letterX:352, legendY:[657,677],     labelX:[486,533,583],     titleY:620, ylabX:360},
  f: {x0:748, x1:1032, y0:373, y1:601, letterX:703, legendY:[657,677],     labelX:[840,893,945],     titleY:620, ylabX:715},
  g: {x0:41,  x1:324,  y0:727, y1:955, letterX:0,   legendY:[1011,1030],   labelX:[133,184,233],     titleY:974, ylabX:7},
  h: {x0:395, x1:677,  y0:727, y1:975, letterX:352, legendY:[1029],        labelX:[463,516,568,618], titleY:996, ylabX:360}
};

const fmtPlain = d3.format("d");
const fmtSci = v => {
  if (v === 0) return "0e+00";
  const e = Math.floor(Math.log10(Math.abs(v)));
  return (v / Math.pow(10, e)) + "e+" + String(e).padStart(2, "0");
};

const PANELS = [
  {id:"a", proteins:aProteins, colors:aColors, yTicks:aYTicks, yDomain:aYDomain, dash:aDash, series:aSeries, fmt:fmtPlain},
  {id:"b", proteins:bProteins, colors:bColors, yTicks:bYTicks, yDomain:bYDomain, dash:bDash, series:bSeries, fmt:fmtPlain},
  {id:"c", proteins:cProteins, colors:cColors, yTicks:cYTicks, yDomain:cYDomain, dash:cDash, series:cSeries, fmt:fmtPlain},
  {id:"d", proteins:dProteins, colors:dColors, yTicks:dYTicks, yDomain:dYDomain, dash:dDash, series:dSeries, fmt:fmtPlain},
  {id:"e", proteins:eProteins, colors:eColors, yTicks:eYTicks, yDomain:eYDomain, dash:eDash, series:eSeries, fmt:fmtPlain},
  {id:"f", proteins:fProteins, colors:fColors, yTicks:fYTicks, yDomain:fYDomain, dash:fDash, series:fSeries, fmt:fmtSci},
  {id:"g", proteins:gProteins, colors:gColors, yTicks:gYTicks, yDomain:gYDomain, dash:gDash, series:gSeries, fmt:fmtSci},
  {id:"h", proteins:hProteins, colors:hColors, yTicks:hYTicks, yDomain:hYDomain, dash:hDash, series:hSeries, fmt:fmtPlain}
];

// ---------------- drawing ----------------
const svg = d3.select("#chart");
svg.append("rect").attr("width",1050).attr("height",1035).attr("fill","#fff");

function parseSegments(str) {
  return str.split("|").map(seg => seg.trim().split(/\s+/).map(p => {
    const [a, b] = p.split(":");
    return [+a, +b * UNIT];
  }));
}

let clipId = 0;
const GAP = 7, STRIP = 16;
const FONT_TICK = 7.5, FONT_STRIP = 7.5, FONT_TITLE = 10.5, FONT_LEG = 7.5;

function drawPanel(P) {
  const L = LAYOUT[P.id];
  const g = svg.append("g");
  const W = (L.x1 - L.x0 - GAP) / 2;
  const H = (L.y1 - L.y0 - 2 * GAP) / 3;
  const x = d3.scaleLinear().domain(X_DOMAIN).range([0, W]);
  const y = d3.scaleLinear().domain(P.yDomain).range([H, 0]);
  const color = d3.scaleOrdinal().domain(P.proteins).range(P.colors);
  const line = d3.line().x(d => x(d[0])).y(d => y(d[1]));
  const yMinor = [];
  for (let i = 0; i < P.yTicks.length - 1; i++) yMinor.push((P.yTicks[i] + P.yTicks[i+1]) / 2);
  const step = P.yTicks[1] - P.yTicks[0];
  const top = P.yTicks[P.yTicks.length-1] + step/2;
  if (top < P.yDomain[1]) yMinor.push(top);

  // letter
  g.append("text").attr("x", L.letterX).attr("y", L.y0 - 5)
    .attr("font-size", 15).attr("font-weight", "bold").attr("fill", "#000").text(P.id);

  CONDITIONS.forEach((cond, ci) => {
    const px = L.x0 + ci * (W + GAP);
    // top strip
    g.append("rect").attr("x", px).attr("y", L.y0 - STRIP).attr("width", W).attr("height", STRIP)
      .attr("fill", "#d9d9d9").attr("stroke", "#333").attr("stroke-width", 1);
    g.append("text").attr("x", px + W/2).attr("y", L.y0 - STRIP/2).attr("dy", "0.35em")
      .attr("text-anchor", "middle").attr("font-size", FONT_STRIP).attr("fill", "#1a1a1a").text(cond);

    REPLICATES.forEach((rep, ri) => {
      const py = L.y0 + ri * (H + GAP);
      const pg = g.append("g").attr("transform", `translate(${px},${py})`);
      const cid = "clip" + (clipId++);
      pg.append("clipPath").attr("id", cid).append("rect").attr("width", W).attr("height", H);
      pg.append("rect").attr("width", W).attr("height", H).attr("fill", "#fff");
      // grid
      const grid = pg.append("g");
      X_MINOR.forEach(v => grid.append("line").attr("x1", x(v)).attr("x2", x(v)).attr("y1", 0).attr("y2", H)
        .attr("stroke", "#f2f2f2").attr("stroke-width", 0.7));
      yMinor.forEach(v => grid.append("line").attr("x1", 0).attr("x2", W).attr("y1", y(v)).attr("y2", y(v))
        .attr("stroke", "#f2f2f2").attr("stroke-width", 0.7));
      X_TICKS.forEach(v => grid.append("line").attr("x1", x(v)).attr("x2", x(v)).attr("y1", 0).attr("y2", H)
        .attr("stroke", "#e6e6e6").attr("stroke-width", 1));
      P.yTicks.forEach(v => grid.append("line").attr("x1", 0).attr("x2", W).attr("y1", y(v)).attr("y2", y(v))
        .attr("stroke", "#e6e6e6").attr("stroke-width", 1));
      // dashed reference line
      pg.append("line").attr("x1", x(P.dash)).attr("x2", x(P.dash)).attr("y1", 0).attr("y2", H)
        .attr("stroke", "#999").attr("stroke-width", 1).attr("stroke-dasharray", "4,4");
      // series
      const dg = pg.append("g").attr("clip-path", `url(#${cid})`);
      const rows = P.series.filter(s => s[1] === cond && String(s[2]) === rep)
        .sort((a, b) => P.proteins.indexOf(a[0]) - P.proteins.indexOf(b[0]));
      rows.forEach(s => {
        parseSegments(s[3]).forEach(seg => {
          dg.append("path").attr("d", line(seg)).attr("fill", "none")
            .attr("stroke", color(s[0])).attr("stroke-width", 1.25).attr("stroke-linejoin", "round");
        });
      });
      // border
      pg.append("rect").attr("width", W).attr("height", H).attr("fill", "none")
        .attr("stroke", "#333").attr("stroke-width", 1.1);
      // y axis
      if (ci === 0) {
        const ax = pg.append("g").call(d3.axisLeft(y).tickValues(P.yTicks).tickFormat(P.fmt).tickSize(3).tickPadding(2));
        ax.select(".domain").remove();
        ax.selectAll(".tick line").attr("stroke", "#333").attr("stroke-width", 1.1);
        ax.selectAll(".tick text").attr("fill", "#4d4d4d").attr("font-size", FONT_TICK)
          .attr("font-family", '"Liberation Sans",Arial,sans-serif');
      }
      // x axis
      if (ri === 2) {
        const ax = pg.append("g").attr("transform", `translate(0,${H})`)
          .call(d3.axisBottom(x).tickValues(X_TICKS).tickFormat(d3.format("d")).tickSize(3).tickPadding(2));
        ax.select(".domain").remove();
        ax.selectAll(".tick line").attr("stroke", "#333").attr("stroke-width", 1.1);
        ax.selectAll(".tick text").attr("fill", "#4d4d4d").attr("font-size", FONT_TICK)
          .attr("font-family", '"Liberation Sans",Arial,sans-serif');
      }
      // right strip
      if (ci === 1) {
        pg.append("rect").attr("x", W + 1).attr("y", 0).attr("width", STRIP).attr("height", H)
          .attr("fill", "#d9d9d9").attr("stroke", "#333").attr("stroke-width", 1);
        pg.append("text").attr("transform", `translate(${W + 1 + STRIP/2},${H/2}) rotate(90)`)
          .attr("dy", "0.35em").attr("text-anchor", "middle").attr("font-size", FONT_STRIP)
          .attr("fill", "#1a1a1a").text(rep);
      }
    });
  });

  // axis titles
  g.append("text").attr("x", (L.x0 + L.x1) / 2).attr("y", L.titleY).attr("dy", "0.35em")
    .attr("text-anchor", "middle").attr("font-size", FONT_TITLE).attr("fill", "#000").text(X_TITLE);
  g.append("text").attr("transform", `translate(${L.ylabX},${(L.y0 + L.y1) / 2}) rotate(-90)`)
    .attr("dy", "0.35em").attr("text-anchor", "middle").attr("font-size", FONT_TITLE).attr("fill", "#000").text(Y_TITLE);

  // legend
  const nrow = L.legendY.length;
  P.proteins.forEach((name, i) => {
    const col = Math.floor(i / nrow), row = i % nrow;
    const lx = L.labelX[col], ly = L.legendY[row];
    g.append("line").attr("x1", lx - 23).attr("x2", lx - 7).attr("y1", ly).attr("y2", ly)
      .attr("stroke", color(name)).attr("stroke-width", 1.6);
    g.append("text").attr("x", lx).attr("y", ly).attr("dy", "0.35em")
      .attr("font-size", FONT_LEG).attr("fill", "#000").text(name);
  });
}

PANELS.forEach(drawPanel);
</script></body></html>
